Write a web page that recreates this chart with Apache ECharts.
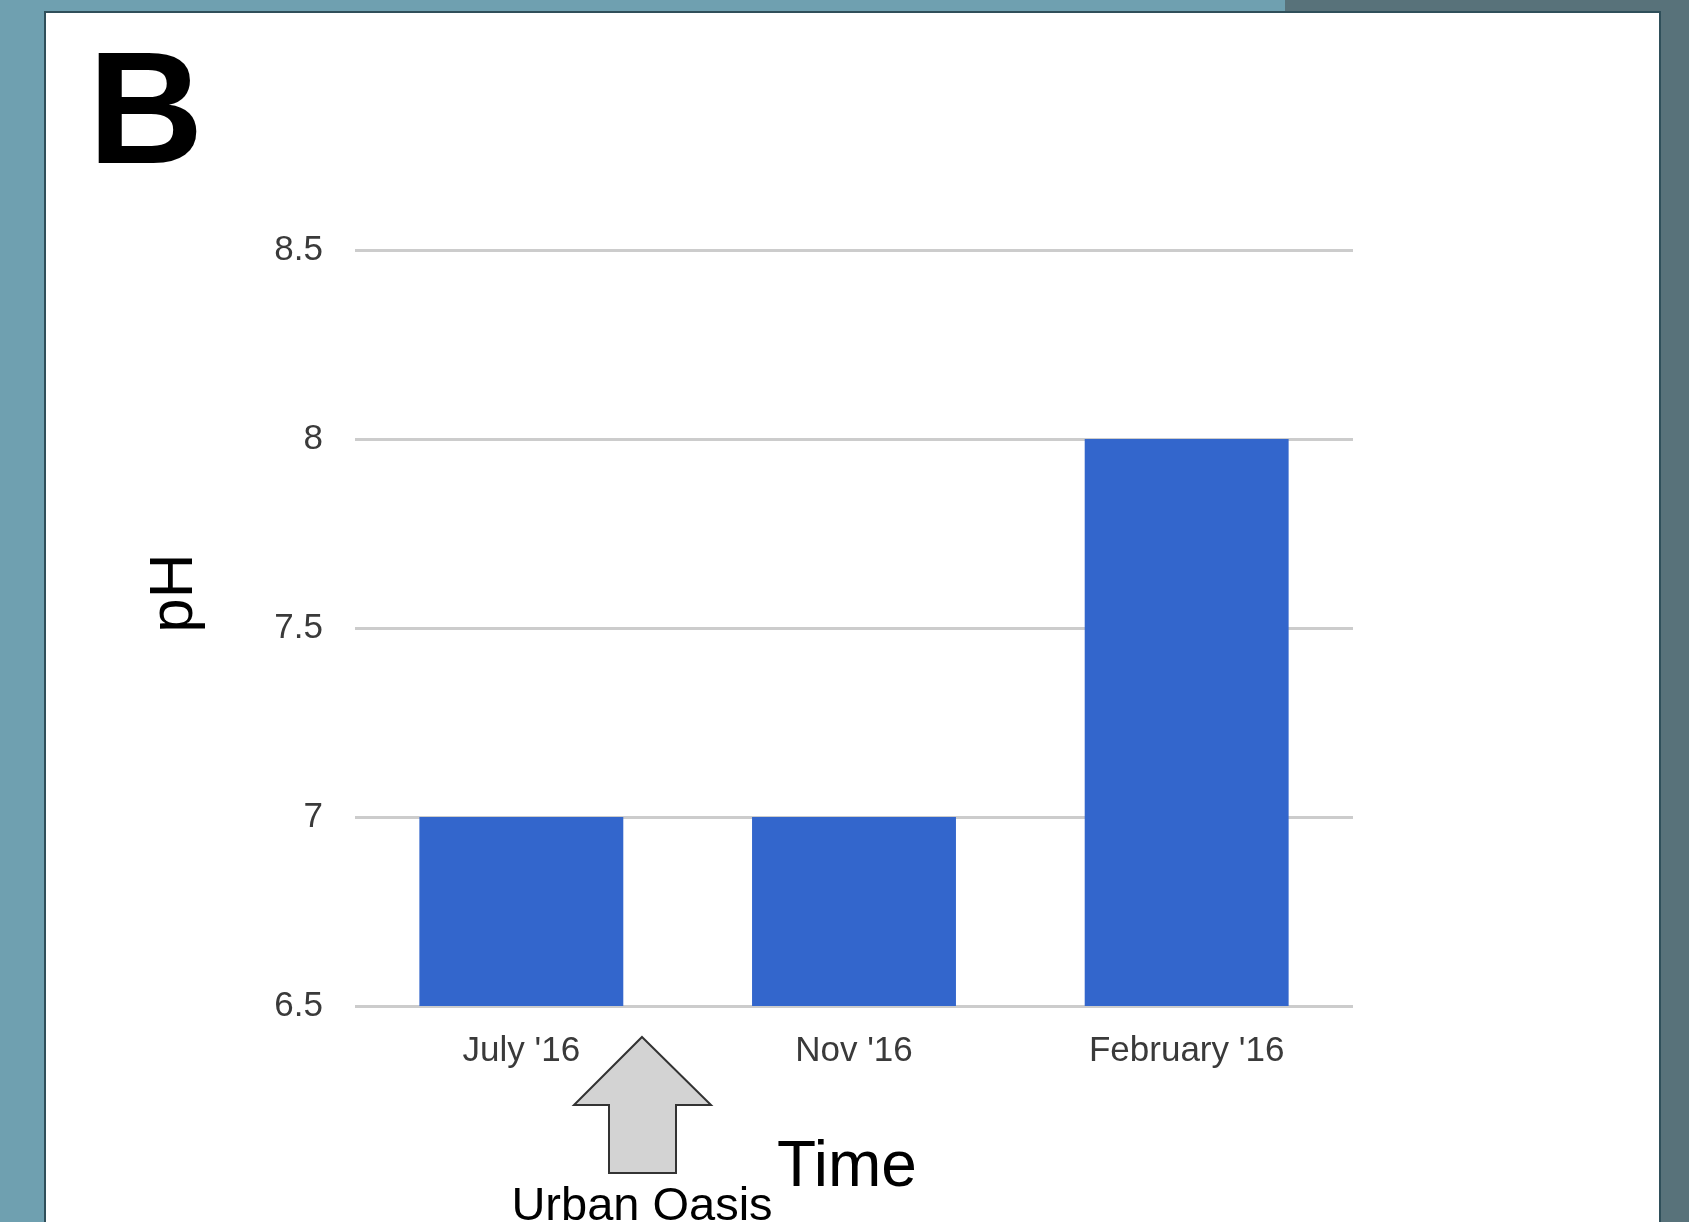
<!DOCTYPE html>
<html>
<head>
<meta charset="utf-8">
<script src="https://cdn.jsdelivr.net/npm/echarts@6/dist/echarts.min.js"></script>
<style>
  html, body { margin: 0; padding: 0; background: #6fa0b0; }
  #chart { width: 1689px; height: 1222px; }
</style>
</head>
<body>
<div id="chart"></div>
<script>
const categories = ["July '16", "Nov '16", "February '16"];
const phValues = [7, 7, 8];
const yTicks = [6.5, 7, 7.5, 8, 8.5];
const panelLetter = 'B';
const yTitle = 'pH';
const xTitle = 'Time';
const arrowNote = 'Urban Oasis';

const sans = "'Liberation Sans', Arial, Helvetica, sans-serif";

const chart = echarts.init(document.getElementById('chart'), null, { renderer: 'canvas' });

chart.setOption({
  backgroundColor: '#6fa0b0',
  animation: false,
  grid: { left: 355, right: 336, top: 250, bottom: 216, containLabel: false },
  xAxis: {
    type: 'category',
    data: categories,
    axisLine: { show: false },
    axisTick: { show: false },
    axisLabel: { color: '#3a3a3a', fontSize: 35, fontFamily: sans, margin: 28 }
  },
  yAxis: {
    type: 'value',
    min: yTicks[0],
    max: yTicks[yTicks.length - 1],
    interval: yTicks[1] - yTicks[0],
    axisLine: { show: false },
    axisTick: { show: false },
    axisLabel: { color: '#3a3a3a', fontSize: 35, fontFamily: sans, margin: 32 },
    splitLine: { show: true, lineStyle: { color: '#cccccc', width: 3 } }
  },
  series: [{
    type: 'bar',
    data: phValues,
    barWidth: '61.3%',
    itemStyle: { color: '#3366cc' },
    z: 3
  }],
  graphic: [
    { type: 'rect', z: -10, silent: true, shape: { x: 1285, y: 0, width: 404, height: 13 }, style: { fill: '#58727a' } },
    { type: 'rect', z: -10, silent: true, shape: { x: 1660, y: 0, width: 29, height: 1222 }, style: { fill: '#58727a' } },
    { type: 'rect', z: -9, silent: true, shape: { x: 45, y: 12, width: 1615, height: 1215 }, style: { fill: '#ffffff', stroke: '#2f4f5a', lineWidth: 2 } },
    { type: 'text', z: 5, x: 88, y: 119, style: { text: panelLetter, fontSize: 160, fontWeight: 'bold', fontFamily: sans, fill: '#000', textAlign: 'left', textVerticalAlign: 'middle' } },
    { type: 'text', z: 5, x: 175, y: 593, rotation: Math.PI / 2, style: { text: yTitle, fontSize: 62, fontFamily: sans, fill: '#000', textAlign: 'center', textVerticalAlign: 'middle' } },
    { type: 'text', z: 5, x: 847, y: 1168, style: { text: xTitle, fontSize: 64, fontFamily: sans, fill: '#000', textAlign: 'center', textVerticalAlign: 'middle' } },
    { type: 'polygon', z: 5, shape: { points: [[642, 1037], [711, 1105], [676, 1105], [676, 1173], [609, 1173], [609, 1105], [574, 1105]] }, style: { fill: '#d3d3d3', stroke: '#333', lineWidth: 2 } },
    { type: 'text', z: 5, x: 642, y: 1207, style: { text: arrowNote, fontSize: 47, fontFamily: sans, fill: '#000', textAlign: 'center', textVerticalAlign: 'middle' } }
  ]
});
</script>
</body>
</html>
